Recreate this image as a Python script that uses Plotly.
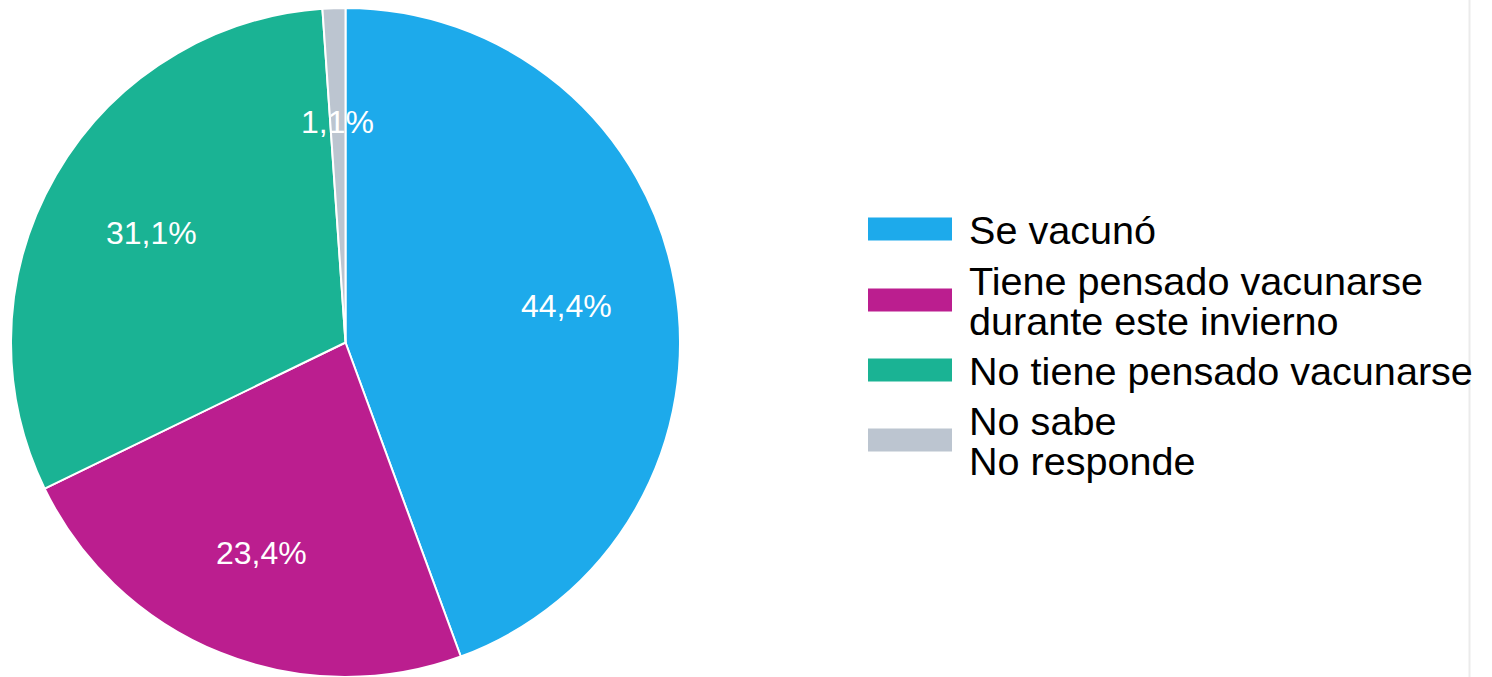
import math
import plotly.graph_objects as go

categories = ["Se vacunó", "Tiene pensado vacunarse durante este invierno",
              "No tiene pensado vacunarse", "No sabe No responde"]
legend_lines = [["Se vacunó"], ["Tiene pensado vacunarse", "durante este invierno"],
                ["No tiene pensado vacunarse"], ["No sabe", "No responde"]]
values = [44.4, 23.4, 31.1, 1.1]
colors = ["#1DAAEB", "#BB1E8F", "#1AB394", "#BCC5D0"]

W, H = 1492, 677
FONT = "Liberation Sans, Arial, sans-serif"
# pie domain in pixels
px0, px1 = 9, 682
py_top, py_bot = 8, 677

fig = go.Figure()
fig.add_trace(go.Pie(
    labels=categories, values=values, sort=False, direction="clockwise",
    marker=dict(colors=colors, line=dict(color="white", width=2)),
    textinfo="none", hoverinfo="skip", showlegend=False,
    domain=dict(x=[px0 / W, px1 / W], y=[1 - py_bot / H, 1 - py_top / H]),
))

# data labels at ~2/3 radius, computed from values
cx = (px0 + px1) / 2
cy = (py_top + py_bot) / 2
R = min(px1 - px0, py_bot - py_top) / 2
total = sum(values)
annotations = []
cum = 0.0
for v in values:
    mid = (cum + v / 2) / total * 2 * math.pi
    cum += v
    lx = cx + 0.67 * R * math.sin(mid)
    ly = cy - 0.67 * R * math.cos(mid) + 3
    annotations.append(dict(
        x=lx / W, y=1 - ly / H, xref="paper", yref="paper",
        text=f"{v:.1f}".replace(".", ",") + "%", showarrow=False,
        font=dict(family=FONT, size=32, color="white"),
        xanchor="center", yanchor="middle"))

# custom legend
shapes = []
leg_centers = [229, 300, 370, 440]
sw_x0, sw_x1, sw_h = 868, 952, 23
line_gap = 40
for lines, col, yc in zip(legend_lines, colors, leg_centers):
    shapes.append(dict(type="rect", xref="paper", yref="paper",
                       x0=sw_x0 / W, x1=sw_x1 / W,
                       y0=1 - (yc + sw_h / 2) / H, y1=1 - (yc - sw_h / 2) / H,
                       fillcolor=col, line=dict(color=col, width=0)))
    n = len(lines)
    for i, t in enumerate(lines):
        ty = yc + (i - (n - 1) / 2) * line_gap + 1
        annotations.append(dict(
            x=967 / W, y=1 - ty / H, xref="paper", yref="paper", text=t,
            showarrow=False, xanchor="left", yanchor="middle",
            font=dict(family=FONT, size=39.6, color="black")))

# thin separator line at right edge
shapes.append(dict(type="line", xref="paper", yref="paper",
                   x0=1469.5 / W, x1=1469.5 / W, y0=0, y1=1,
                   line=dict(color="#EBEBEB", width=2)))

fig.update_layout(
    width=W, height=H, margin=dict(l=0, r=0, t=0, b=0),
    paper_bgcolor="white", plot_bgcolor="white",
    annotations=annotations, shapes=shapes, showlegend=False,
)
fig.write_html("out.html", config={"displayModeBar": False},
               post_script="document.body.style.margin='0';document.body.style.overflow='hidden';")
